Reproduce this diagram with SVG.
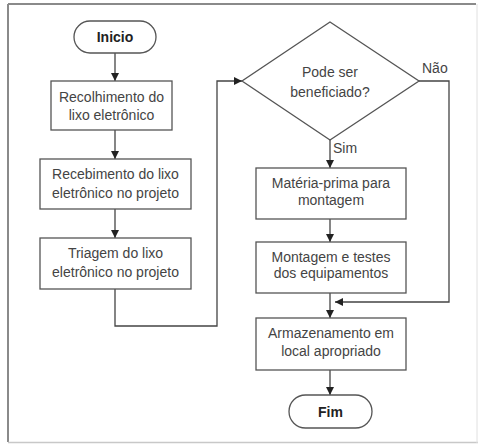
<svg xmlns="http://www.w3.org/2000/svg" width="478" height="444" viewBox="0 0 478 444">
<defs>
<marker id="ah" viewBox="0 0 10 10" refX="10" refY="5" markerWidth="8" markerHeight="8" markerUnits="userSpaceOnUse" orient="auto">
<path d="M0,0 L10,5 L0,10 z" fill="#222"/>
</marker>
<style>
.box{fill:#fff;stroke:#555;stroke-width:1.3}
.t{font-family:"Liberation Sans",Arial,sans-serif;font-size:14px;fill:#444;text-anchor:middle}
.b{font-weight:bold;fill:#222}
.c{fill:none;stroke:#444;stroke-width:1.3}
</style>
</defs>
<rect width="478" height="444" fill="#fff"/>
<g id="frame">
<line x1="8" y1="4" x2="476" y2="4" stroke="#8a8a8a" stroke-width="2"/>
<line x1="8" y1="4" x2="8" y2="442" stroke="#8a8a8a" stroke-width="2"/>
<line x1="8" y1="442.5" x2="478" y2="442.5" stroke="#c8c8c8" stroke-width="1.5"/>
<line x1="477" y1="4" x2="477" y2="443" stroke="#e0e0e0" stroke-width="1"/>
</g>
<g id="connectors">
<line class="c" x1="115" y1="53" x2="115" y2="81" marker-end="url(#ah)"/>
<line class="c" x1="115" y1="130" x2="115" y2="159" marker-end="url(#ah)"/>
<line class="c" x1="115" y1="209" x2="115" y2="238" marker-end="url(#ah)"/>
<polyline class="c" points="115,289 115,326 217,326 217,81 242,81" marker-end="url(#ah)"/>
<line class="c" x1="330" y1="140" x2="330" y2="168" marker-end="url(#ah)"/>
<line class="c" x1="330" y1="219" x2="330" y2="242" marker-end="url(#ah)"/>
<line class="c" x1="330" y1="293" x2="330" y2="318" marker-end="url(#ah)"/>
<polyline class="c" points="419,81 449,81 449,302 335,302" marker-end="url(#ah)"/>
<line class="c" x1="330" y1="370" x2="330" y2="395" marker-end="url(#ah)"/>
<text class="t" x="422" y="73" style="text-anchor:start">Não</text>
<text class="t" x="333" y="153" style="text-anchor:start">Sim</text>
</g>
<g id="inicio">
<rect class="box" x="74" y="21" width="82" height="32" rx="16"/>
<text class="t b" x="115" y="42">Inicio</text>
</g>
<g id="recolhimento">
<rect class="box" x="51" y="81" width="121" height="49"/>
<text class="t" x="111.5" y="102">Recolhimento do</text>
<text class="t" x="111.5" y="120">lixo eletrônico</text>
</g>
<g id="recebimento">
<rect class="box" x="40" y="159" width="151" height="50"/>
<text class="t" x="115.5" y="179">Recebimento do lixo</text>
<text class="t" x="115.5" y="198">eletrônico no projeto</text>
</g>
<g id="triagem">
<rect class="box" x="40" y="238" width="151" height="51"/>
<text class="t" x="115.5" y="258">Triagem do lixo</text>
<text class="t" x="115.5" y="277">eletrônico no projeto</text>
</g>
<g id="decisao">
<polygon class="box" points="330,22 419,81 330,140 242,81"/>
<text class="t" x="330" y="77">Pode ser</text>
<text class="t" x="330" y="97">beneficiado?</text>
</g>
<g id="materia">
<rect class="box" x="256" y="168" width="150" height="51"/>
<text class="t" x="331" y="188">Matéria-prima para</text>
<text class="t" x="331" y="205">montagem</text>
</g>
<g id="montagem">
<rect class="box" x="256" y="242" width="150" height="51"/>
<text class="t" x="331" y="262">Montagem e testes</text>
<text class="t" x="331" y="278">dos equipamentos</text>
</g>
<g id="armazenamento">
<rect class="box" x="256" y="318" width="150" height="52"/>
<text class="t" x="331" y="338">Armazenamento em</text>
<text class="t" x="331" y="356">local apropriado</text>
</g>
<g id="fim">
<rect class="box" x="289" y="395" width="83" height="33" rx="16.5"/>
<text class="t b" x="330.5" y="417">Fim</text>
</g>
</svg>
